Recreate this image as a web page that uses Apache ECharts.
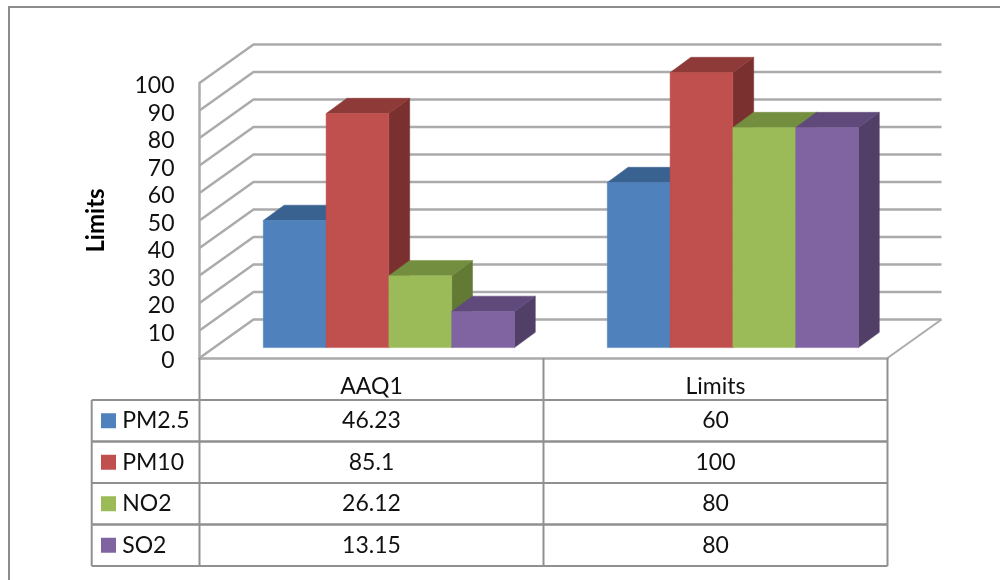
<!DOCTYPE html>
<html>
<head>
<meta charset="utf-8">
<style>html,body{margin:0;padding:0;background:#fff}#c{width:1000px;height:580px}</style>
<script src="https://cdn.jsdelivr.net/npm/echarts@6/dist/echarts.min.js"></script>
</head>
<body>
<div id="c"></div>
<script>
const categories = ['AAQ1', 'Limits'];
const yTicks = [0, 10, 20, 30, 40, 50, 60, 70, 80, 90, 100];
const seriesNames = ['PM2.5', 'PM10', 'NO2', 'SO2'];
const pm25 = [46.23, 60];
const pm10 = [85.1, 100];
const no2 = [26.12, 80];
const so2 = [13.15, 80];
const tableLabels = [['46.23', '60'], ['85.1', '100'], ['26.12', '80'], ['13.15', '80']];
const allValues = [pm25, pm10, no2, so2];
const frontColors = ['#4f81bd', '#c0504d', '#9bbb59', '#8064a2'];
const topColors = ['#3a6290', '#8e3a38', '#748e40', '#604a7b'];
const sideColors = ['#30517a', '#7a302e', '#637a35', '#523f68'];

const FONT = 'Lato';
const FS = 23;
const WALL_DX = 54, WALL_DY = -38.5;
const BAR_W = 62.8, BAR_DX = 20.8, BAR_DY = -15.3, BAR_SHIFT = 17.4, BAR_LIFT = -10.4;
const GRID_COL = '#ababab', TABLE_COL = '#909090';
const ROW0 = 42, ROW_H = 41.5, TABLE_LEFT = 91.7;

function line(pts, color, w) {
  return { type: 'polyline', shape: { points: pts }, style: { stroke: color, lineWidth: w, fill: null } };
}
function poly(pts, color) {
  return { type: 'polygon', shape: { points: pts }, style: { fill: color, stroke: color, lineWidth: 0.5 } };
}

const wallSeries = {
  type: 'custom', name: 'walls', z: 1, silent: true,
  coordinateSystem: 'cartesian2d',
  data: yTicks.map(v => [0, v]),
  renderItem(params, api) {
    const v = api.value(1);
    const rect = params.coordSys;
    const p = api.coord([0, v]);
    const x0 = rect.x, x1 = rect.x + rect.width, y = p[1];
    const kids = [line([[x0, y], [x0 + WALL_DX, y + WALL_DY], [x1 + WALL_DX, y + WALL_DY]], GRID_COL, 2.5)];
    if (v === 0) kids.push(line([[x1 + WALL_DX, y + WALL_DY], [x1, y]], GRID_COL, 2));
    return { type: 'group', children: kids };
  }
};

const barSeries = seriesNames.map((name, si) => ({
  type: 'custom', name, z: 2 + si, silent: true,
  coordinateSystem: 'cartesian2d',
  data: categories.map((c, i) => [i, allValues[si][i]]),
  renderItem(params, api) {
    const top = api.coord([api.value(0), api.value(1)]);
    const base = api.coord([api.value(0), 0]);
    const l = top[0] + BAR_SHIFT + (si - 2) * BAR_W, r = l + BAR_W;
    const t = top[1] + BAR_LIFT, b = base[1] + BAR_LIFT;
    return {
      type: 'group', children: [
        poly([[r, t], [r + BAR_DX, t + BAR_DY], [r + BAR_DX, b + BAR_DY], [r, b]], sideColors[si]),
        poly([[l, t], [l + BAR_DX, t + BAR_DY], [r + BAR_DX, t + BAR_DY], [r, t]], topColors[si]),
        poly([[l, t], [r, t], [r, b], [l, b]], frontColors[si])
      ]
    };
  }
}));

function cellText(x, y, text, align) {
  return { type: 'text', style: { x, y, text, fill: '#111', font: FS + 'px ' + FONT, textAlign: align, textVerticalAlign: 'middle' } };
}

const tableSeries = {
  type: 'custom', name: 'table', z: 10, silent: true,
  coordinateSystem: 'cartesian2d',
  data: seriesNames.map((n, i) => [0, 0, i]),
  renderItem(params, api) {
    const i = api.value(2);
    const rect = params.coordSys;
    const x0 = rect.x, x2 = rect.x + rect.width, x1 = (x0 + x2) / 2;
    const yBase = rect.y + rect.height;
    const yT = yBase + ROW0 + i * ROW_H, yB = yT + ROW_H, yM = yT + ROW_H / 2;
    const kids = [
      line([[TABLE_LEFT, yT], [x2, yT]], TABLE_COL, 2),
      line([[TABLE_LEFT, yB], [x2, yB]], TABLE_COL, 2),
      line([[TABLE_LEFT, yT], [TABLE_LEFT, yB]], TABLE_COL, 2),
      line([[x0, yT], [x0, yB]], TABLE_COL, 2),
      line([[x1, yT], [x1, yB]], TABLE_COL, 2),
      line([[x2, yT], [x2, yB]], TABLE_COL, 2),
      { type: 'rect', shape: { x: TABLE_LEFT + 9.3, y: yM - 7.5, width: 15, height: 15 }, style: { fill: frontColors[i] } },
      cellText(TABLE_LEFT + 30.5, yM, seriesNames[i], 'left'),
      cellText(api.coord([0, 0])[0], yM, tableLabels[i][0], 'center'),
      cellText(api.coord([1, 0])[0], yM, tableLabels[i][1], 'center')
    ];
    if (i === 0) {
      kids.push(line([[x0, yBase], [x0, yT]], TABLE_COL, 2));
      kids.push(line([[x1, yBase], [x1, yT]], TABLE_COL, 2));
      kids.push(line([[x2, yBase], [x2, yT]], TABLE_COL, 2));
    }
    return { type: 'group', children: kids };
  }
};

const chart = echarts.init(document.getElementById('c'));
chart.setOption({
  animation: false,
  backgroundColor: '#fff',
  grid: { left: 199.5, right: 112.5, top: 83, bottom: 222, containLabel: false, outerBoundsMode: 'none' },
  xAxis: {
    type: 'category', data: categories,
    axisLine: { show: true, lineStyle: { color: GRID_COL, width: 2.5 } },
    axisTick: { show: false },
    axisLabel: { color: '#111', fontFamily: FONT, fontSize: FS, margin: 17 },
    splitLine: { show: false }
  },
  yAxis: {
    type: 'value', min: 0, max: 100, interval: 10,
    name: 'Limits', nameLocation: 'middle', nameGap: 91, nameRotate: 90,
    nameTextStyle: { color: '#000', fontFamily: FONT, fontSize: 24, fontWeight: 'bold' },
    axisLine: { show: true, lineStyle: { color: GRID_COL, width: 2.5 } },
    axisTick: { show: false },
    axisLabel: { color: '#111', fontFamily: FONT, fontSize: FS, margin: 25, verticalAlign: 'top', lineHeight: 6 },
    splitLine: { show: false }
  },
  graphic: [
    { type: 'polyline', silent: true, z: 0, shape: { points: [[9, 580], [9, 7], [1000, 7]] }, style: { stroke: '#8c8c8c', lineWidth: 2, fill: null } }
  ],
  series: [wallSeries, ...barSeries, tableSeries]
});
</script>
</body>
</html>
